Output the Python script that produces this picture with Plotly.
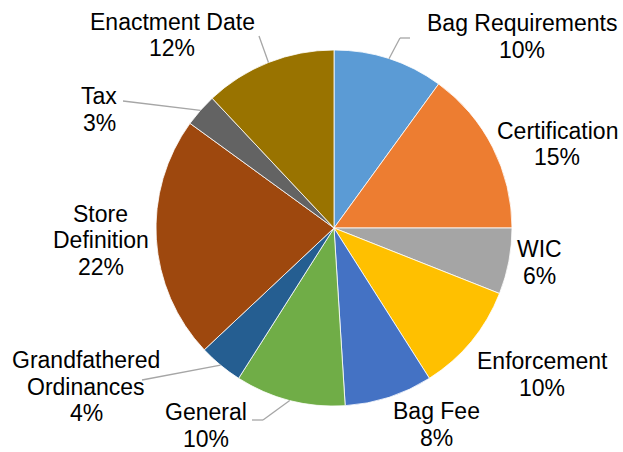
import math
import plotly.graph_objects as go

W, H = 623, 452

# Share of topics (percent), clockwise from 12 o'clock
categories = ["Bag Requirements", "Certification", "WIC", "Enforcement", "Bag Fee",
              "General", "Grandfathered Ordinances", "Store Definition", "Tax",
              "Enactment Date"]
shares = [10, 15, 6, 10, 8, 10, 4, 22, 3, 12]
label_lines = [["Bag Requirements"], ["Certification"], ["WIC"], ["Enforcement"],
               ["Bag Fee"], ["General"], ["Grandfathered", "Ordinances"],
               ["Store", "Definition"], ["Tax"], ["Enactment Date"]]
colors = ["#5B9BD5", "#ED7D31", "#A5A5A5", "#FFC000", "#4472C4",
          "#70AD47", "#255E91", "#9E480E", "#636363", "#997300"]

# pie geometry in pixels
CX, CY, R = 334, 228, 178

# label block placement (pixel centre of the first text line)
label_pos = [(522, 22), (557, 130), (539, 248), (542, 360), (436, 410),
             (206, 411), (86, 359), (101, 213), (99, 95), (172, 21)]
LINE_STEP = 26.5

# leader-line elbows (pixel points after the point on the rim)
leaders = {0: [(400, 38), (410, 38)],
           9: [(259, 36)],
           8: [(123, 101)],
           6: [(142, 380)],
           5: [(263, 420), (252, 420)]}


def px(x):
    return x / W


def py(y):
    return 1 - y / H


fig = go.Figure(go.Pie(
    labels=categories,
    values=shares,
    sort=False,
    direction="clockwise",
    rotation=0,
    marker=dict(colors=colors, line=dict(color="#FFFFFF", width=0.8)),
    textinfo="none",
    hoverinfo="label+percent",
    showlegend=False,
    domain=dict(x=[px(CX - R), px(CX + R)], y=[py(CY + R), py(CY - R)]),
))

font = dict(family="Liberation Sans, Arial, sans-serif", size=23, color="#000000")
annotations = []
total = sum(shares)
for i, (lines, (lx, ly)) in enumerate(zip(label_lines, label_pos)):
    texts = lines + [f"{round(shares[i] / total * 100)}%"]
    for k, t in enumerate(texts):
        annotations.append(dict(
            x=px(lx), y=py(ly + k * LINE_STEP + 1), xref="paper", yref="paper",
            text=t, showarrow=False, xanchor="center", yanchor="middle", font=font))

shapes = []
cum = 0
mids = []
for v in shares:
    mids.append((cum + v / 2) / total * 360)
    cum += v
for i, pts in leaders.items():
    a = math.radians(mids[i])
    path = [(CX + R * math.sin(a), CY - R * math.cos(a))] + pts
    for (x0, y0), (x1, y1) in zip(path[:-1], path[1:]):
        shapes.append(dict(type="line", xref="paper", yref="paper",
                           x0=px(x0), y0=py(y0), x1=px(x1), y1=py(y1),
                           line=dict(color="#A6A6A6", width=1.3)))

fig.update_layout(
    width=W, height=H,
    margin=dict(l=0, r=0, t=0, b=0),
    paper_bgcolor="#FFFFFF",
    plot_bgcolor="#FFFFFF",
    annotations=annotations,
    shapes=shapes,
)

fig.write_html("out.html")
